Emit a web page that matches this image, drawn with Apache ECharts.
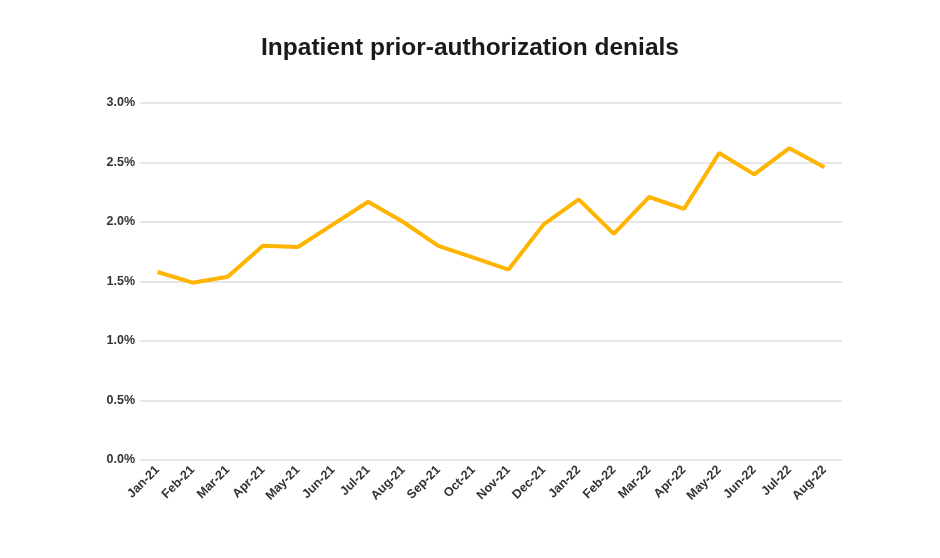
<!DOCTYPE html>
<html><head><meta charset="utf-8">
<script src="https://cdn.jsdelivr.net/npm/echarts@6/dist/echarts.min.js"></script>
<style>html,body{margin:0;padding:0;background:#fff;}#c{width:940px;height:558px;}</style>
</head><body><div id="c"></div>
<script>
const categories = ["Jan-21","Feb-21","Mar-21","Apr-21","May-21","Jun-21","Jul-21","Aug-21","Sep-21","Oct-21","Nov-21","Dec-21","Jan-22","Feb-22","Mar-22","Apr-22","May-22","Jun-22","Jul-22","Aug-22"];
const denialRate = [1.58,1.49,1.54,1.80,1.79,1.98,2.17,2.00,1.80,1.70,1.60,1.98,2.19,1.90,2.21,2.11,2.58,2.40,2.62,2.46];
const chartTitle = "Inpatient prior-authorization denials";
const chart = echarts.init(document.getElementById('c'));
chart.setOption({
  backgroundColor:'#fff',
  title:{text:chartTitle,left:'center',top:31,textStyle:{fontFamily:'Liberation Sans',fontWeight:'bold',fontSize:24.5,color:'#1a1a1a'}},
  grid:{left:140,right:98,top:103,bottom:98},
  xAxis:{type:'category',data:categories,boundaryGap:true,
    axisLine:{show:false},axisTick:{show:false},
    axisLabel:{rotate:45,interval:0,fontFamily:'Liberation Sans',fontWeight:'bold',fontSize:12.5,color:'#333',margin:8}},
  yAxis:{type:'value',min:0,max:3,interval:0.5,
    axisLine:{show:false},axisTick:{show:false},
    axisLabel:{formatter:v=>v.toFixed(1)+'%',fontFamily:'Liberation Sans',fontWeight:'bold',fontSize:12.5,color:'#333',margin:5}},
  series:[{type:'line',data:denialRate,symbol:'none',lineStyle:{color:'#FFB400',width:4},itemStyle:{color:'#FFB400'}}]
});
chart.setOption({yAxis:{splitLine:{lineStyle:{color:'#dedede',width:1.5}}}});
</script></body></html>
